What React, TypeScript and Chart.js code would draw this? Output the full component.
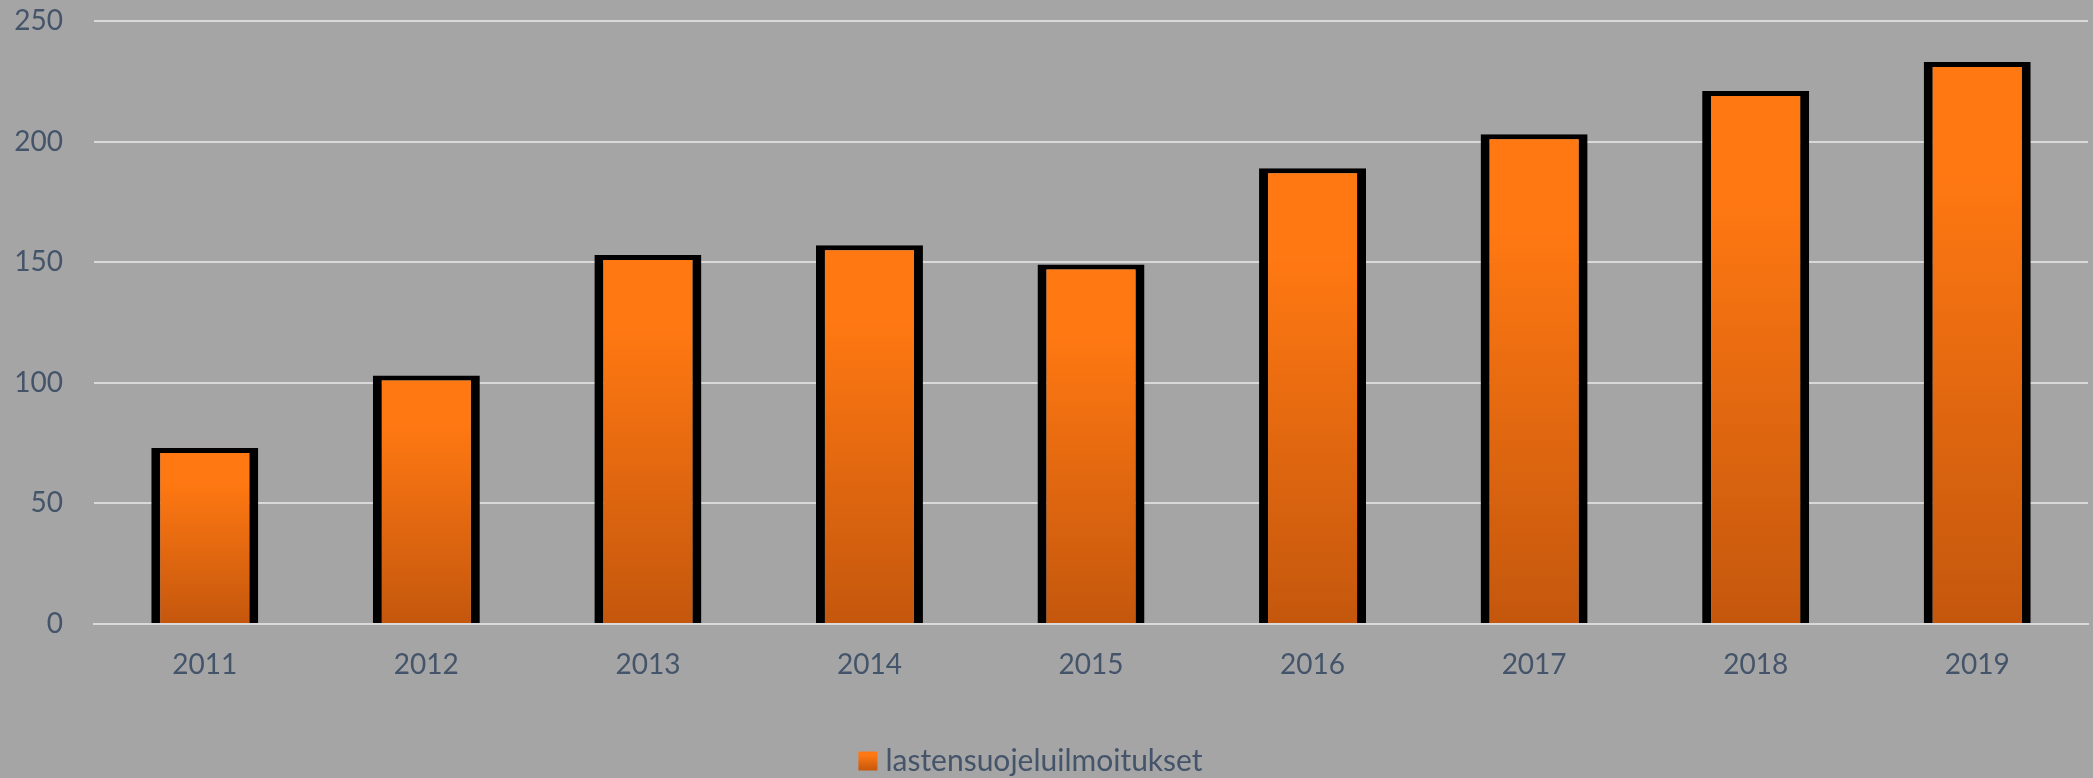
import React, { useEffect, useRef } from "react";
import { Chart, registerables } from "chart.js";

Chart.register(...registerables);

const years = ["2011", "2012", "2013", "2014", "2015", "2016", "2017", "2018", "2019"];
const notifications = [73, 103, 153, 157, 149, 189, 203, 221, 233];
const seriesLabel = "lastensuojeluilmoitukset";
const yTicksMax = 250;
const yTicksStep = 50;

const TOP = "#ff7812";
const BOTTOM = "#c4570d";
const LEGEND_BOX = 19;
const LEGEND_SHIFT = 21;

function barGradient(ctx: CanvasRenderingContext2D, top: number, bottom: number) {
  const g = ctx.createLinearGradient(0, top, 0, bottom);
  g.addColorStop(0, TOP);
  g.addColorStop(0.2, TOP);
  g.addColorStop(1, BOTTOM);
  return g;
}

const legendBoxPlugin = {
  id: "legendBoxGradient",
  afterLayout(chart: any) {
    const lg = chart.legend;
    if (!lg) return;
    lg.left -= LEGEND_SHIFT;
    lg.right -= LEGEND_SHIFT;
  },
  afterDraw(chart: any) {
    const lg = chart.legend;
    if (!lg || !lg.legendHitBoxes || !lg.legendHitBoxes.length) return;
    const hb = lg.legendHitBoxes[0];
    const ctx = chart.ctx;
    const font = lg.options.labels.font.size;
    const top = hb.top + (Math.max(font, LEGEND_BOX) - LEGEND_BOX) / 2;
    ctx.save();
    ctx.fillStyle = barGradient(ctx, top, top + LEGEND_BOX);
    ctx.fillRect(hb.left, top, LEGEND_BOX, LEGEND_BOX);
    ctx.restore();
  },
};

export default function App() {
  const ref = useRef<HTMLCanvasElement | null>(null);
  useEffect(() => {
    document.body.style.margin = "0";
    document.body.style.background = "#a5a5a5";
    if (!ref.current) return;
    const chart = new Chart(ref.current, {
      type: "bar",
      data: {
        labels: years,
        datasets: [
          {
            label: seriesLabel,
            data: notifications,
            backgroundColor: (c: any) => {
              const chart = c.chart;
              const y = chart.scales && chart.scales.y;
              if (!chart.chartArea || !y || c.raw === undefined) return "#f06c12";
              const top = y.getPixelForValue(c.raw);
              const bottom = y.getPixelForValue(0);
              return barGradient(chart.ctx, top, bottom);
            },
            borderColor: "#000000",
            borderWidth: { top: 5, left: 9, right: 9, bottom: 0 },
            borderSkipped: false,
            barPercentage: 0.483,
            categoryPercentage: 1,
          },
        ],
      },
      options: {
        animation: false,
        responsive: true,
        maintainAspectRatio: false,
        layout: { padding: { left: 15, right: 5, top: 21, bottom: -8 } },
        plugins: {
          legend: {
            display: true,
            position: "bottom",
            labels: {
              color: "#44546a",
              font: { family: "Lato", size: 30 },
              boxWidth: 12,
              boxHeight: LEGEND_BOX,
              padding: 10,
              generateLabels: (ch: any) =>
                ch.data.datasets.map((ds: any, i: number) => ({
                  text: ds.label,
                  fillStyle: "rgba(0,0,0,0)",
                  strokeStyle: "rgba(0,0,0,0)",
                  lineWidth: 0,
                  fontColor: "#44546a",
                  hidden: false,
                  datasetIndex: i,
                })),
            },
          },
          tooltip: { enabled: false },
        },
        scales: {
          x: {
            z: 1,
            grid: { display: false, drawTicks: false },
            border: { display: true, color: "#d9d9d9", width: 2 },
            ticks: {
              color: "#44546a",
              font: { family: "Lato", size: 28 },
              padding: 24,
            },
            afterFit: (s: any) => {
              s.paddingLeft = 0;
              s.paddingRight = 0;
              s.paddingTop = 0;
              s.paddingBottom = 0;
              s.height = 112;
            },
          },
          y: {
            min: 0,
            max: yTicksMax,
            grid: { color: "#d9d9d9", lineWidth: 2, drawTicks: false },
            border: { display: false },
            ticks: {
              stepSize: yTicksStep,
              color: "#44546a",
              font: { family: "Lato", size: 28 },
              padding: 31,
            },
            afterFit: (s: any) => {
              s.paddingLeft = 0;
              s.paddingRight = 0;
              s.paddingTop = 0;
              s.paddingBottom = 0;
              s.width = 79;
            },
          },
        },
      },
      plugins: [legendBoxPlugin],
    });
    return () => chart.destroy();
  }, []);
  return (
    <div style={{ width: 2093, height: 778, position: "relative", background: "#a5a5a5" }}>
      <canvas ref={ref} />
    </div>
  );
}
